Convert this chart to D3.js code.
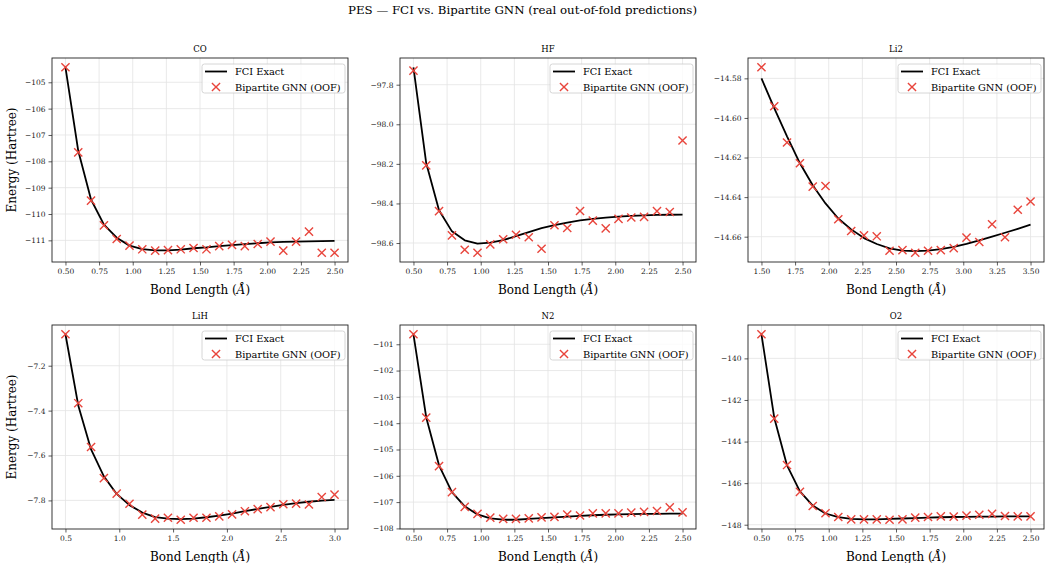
<!DOCTYPE html>
<html>
<head>
<meta charset="utf-8">
<script src="https://cdn.jsdelivr.net/npm/d3@7"></script>
<style>
    body { margin: 0; background: #fff; }
    svg { font-family: "DejaVu Serif", serif; }
</style>
</head>
<body>
<div id="chart"></div>
<script>
// Data
const molecules = ["CO", "HF", "Li2", "LiH", "N2", "O2"];

const bondShort = [0.5, 0.595, 0.69, 0.786, 0.881, 0.976, 1.071, 1.167, 1.262, 1.357, 1.452,
    1.548, 1.643, 1.738, 1.833, 1.929, 2.024, 2.119, 2.214, 2.31, 2.405, 2.5];
const bondLi2 = [1.5, 1.595, 1.69, 1.786, 1.881, 1.976, 2.071, 2.167, 2.262, 2.357, 2.452,
    2.548, 2.643, 2.738, 2.833, 2.929, 3.024, 3.119, 3.214, 3.31, 3.405, 3.5];
const bondLiH = [0.5, 0.619, 0.738, 0.857, 0.976, 1.095, 1.214, 1.333, 1.452, 1.571, 1.69,
    1.81, 1.929, 2.048, 2.167, 2.286, 2.405, 2.524, 2.643, 2.762, 2.881, 3.0];

const fciCO = [-104.43, -107.6, -109.45, -110.4, -110.9, -111.2, -111.33, -111.38, -111.38, -111.35, -111.3,
    -111.27, -111.22, -111.18, -111.14, -111.11, -111.08, -111.06, -111.05, -111.04, -111.03, -111.02];
const gnnCO = [-104.43, -107.66, -109.49, -110.43, -110.95, -111.2, -111.34, -111.39, -111.37, -111.34, -111.29,
    -111.34, -111.22, -111.17, -111.22, -111.14, -111.05, -111.39, -111.05, -110.67, -111.47, -111.47];

const fciHF = [-97.712, -98.197, -98.434, -98.541, -98.586, -98.603, -98.598, -98.585, -98.565, -98.545, -98.525,
    -98.51, -98.497, -98.486, -98.478, -98.472, -98.467, -98.463, -98.46, -98.458, -98.457, -98.456];
const gnnHF = [-97.729, -98.208, -98.439, -98.561, -98.634, -98.649, -98.607, -98.581, -98.558, -98.571, -98.629,
    -98.51, -98.524, -98.438, -98.487, -98.526, -98.478, -98.471, -98.468, -98.439, -98.443, -98.082];

const fciLi2 = [-14.58, -14.595, -14.6093, -14.6229, -14.634, -14.6432, -14.6508, -14.6563, -14.6607, -14.6637, -14.6659,
    -14.667, -14.6673, -14.667, -14.6663, -14.6651, -14.6636, -14.6619, -14.66, -14.658, -14.656, -14.6539];
const gnnLi2 = [-14.5744, -14.5941, -14.6124, -14.6229, -14.6347, -14.6344, -14.6512, -14.6571, -14.6593, -14.6598, -14.6671,
    -14.6668, -14.6681, -14.6671, -14.6668, -14.6658, -14.6605, -14.6627, -14.6537, -14.6603, -14.6464, -14.6422];

const fciLiH = [-7.06, -7.377, -7.573, -7.693, -7.771, -7.821, -7.854, -7.874, -7.881, -7.883, -7.881,
    -7.875, -7.868, -7.859, -7.848, -7.838, -7.829, -7.82, -7.812, -7.806, -7.801, -7.798];
const gnnLiH = [-7.06, -7.367, -7.562, -7.701, -7.77, -7.815, -7.863, -7.881, -7.877, -7.886, -7.877,
    -7.877, -7.871, -7.862, -7.848, -7.839, -7.83, -7.817, -7.814, -7.818, -7.785, -7.774];

const fciN2 = [-100.62, -103.78, -105.6, -106.62, -107.16, -107.47, -107.62, -107.67, -107.67, -107.64, -107.61,
    -107.58, -107.55, -107.52, -107.5, -107.48, -107.47, -107.46, -107.45, -107.45, -107.44, -107.44];
const gnnN2 = [-100.62, -103.79, -105.63, -106.62, -107.18, -107.45, -107.59, -107.64, -107.64, -107.62, -107.58,
    -107.56, -107.47, -107.51, -107.43, -107.43, -107.43, -107.4, -107.37, -107.34, -107.2, -107.39];

const fciO2 = [-138.84, -142.85, -145.15, -146.4, -147.08, -147.46, -147.64, -147.72, -147.74, -147.74, -147.72,
    -147.7, -147.68, -147.66, -147.64, -147.63, -147.62, -147.61, -147.61, -147.6, -147.6, -147.6];
const gnnO2 = [-138.84, -142.9, -145.13, -146.42, -147.1, -147.45, -147.63, -147.74, -147.74, -147.74, -147.76,
    -147.74, -147.66, -147.63, -147.6, -147.61, -147.56, -147.52, -147.48, -147.58, -147.6, -147.6];

// Tick values per panel
const xTicksShort = [0.5, 0.75, 1.0, 1.25, 1.5, 1.75, 2.0, 2.25, 2.5];
const xTicksLi2 = [1.5, 1.75, 2.0, 2.25, 2.5, 2.75, 3.0, 3.25, 3.5];
const xTicksLiH = [0.5, 1.0, 1.5, 2.0, 2.5, 3.0];
const yTicksCO = [-105, -106, -107, -108, -109, -110, -111];
const yTicksHF = [-97.8, -98.0, -98.2, -98.4, -98.6];
const yTicksLi2 = [-14.58, -14.60, -14.62, -14.64, -14.66];
const yTicksLiH = [-7.2, -7.4, -7.6, -7.8];
const yTicksN2 = [-101, -102, -103, -104, -105, -106, -107, -108];
const yTicksO2 = [-140, -142, -144, -146, -148];

const panels = [
    { name: molecules[0], x: bondShort, fci: fciCO, gnn: gnnCO, xt: xTicksShort, xf: ".2f", yt: yTicksCO, yf: ".0f" },
    { name: molecules[1], x: bondShort, fci: fciHF, gnn: gnnHF, xt: xTicksShort, xf: ".2f", yt: yTicksHF, yf: ".1f" },
    { name: molecules[2], x: bondLi2, fci: fciLi2, gnn: gnnLi2, xt: xTicksLi2, xf: ".2f", yt: yTicksLi2, yf: ".2f" },
    { name: molecules[3], x: bondLiH, fci: fciLiH, gnn: gnnLiH, xt: xTicksLiH, xf: ".1f", yt: yTicksLiH, yf: ".1f" },
    { name: molecules[4], x: bondShort, fci: fciN2, gnn: gnnN2, xt: xTicksShort, xf: ".2f", yt: yTicksN2, yf: ".0f" },
    { name: molecules[5], x: bondShort, fci: fciO2, gnn: gnnO2, xt: xTicksShort, xf: ".2f", yt: yTicksO2, yf: ".0f" }
];

const colors = { fci: "#000000", gnn: "#e8453c", grid: "#e3e3e3" };

const W = 1045, H = 563;
const colLeft = [52, 400, 748];
const rowTop = [58, 325];
const pw = 296, ph = 204;

const svg = d3.select("#chart").append("svg")
    .attr("width", W)
    .attr("height", H);

svg.append("text")
    .attr("x", W / 2)
    .attr("y", 14)
    .attr("text-anchor", "middle")
    .style("font-size", "11.8px")
    .text("PES — FCI vs. Bipartite GNN (real out-of-fold predictions)");

const minus = s => s.replace("-", "\u2212");

panels.forEach((p, i) => {
    const col = i % 3, row = Math.floor(i / 3);
    const g = svg.append("g").attr("transform", `translate(${colLeft[col]},${rowTop[row]})`);

    // matplotlib-style 5% margins
    const [x0, x1] = d3.extent(p.x);
    const xm = (x1 - x0) * 0.05;
    const x = d3.scaleLinear().domain([x0 - xm, x1 + xm]).range([0, pw]);

    const [y0, y1] = d3.extent(p.fci.concat(p.gnn));
    const ym = (y1 - y0) * 0.05;
    const y = d3.scaleLinear().domain([y0 - ym, y1 + ym]).range([ph, 0]);

    // Grid
    g.append("g").selectAll("line").data(p.xt).join("line")
        .attr("x1", d => x(d)).attr("x2", d => x(d))
        .attr("y1", 0).attr("y2", ph)
        .attr("stroke", colors.grid).attr("stroke-width", 0.8);
    g.append("g").selectAll("line").data(p.yt).join("line")
        .attr("y1", d => y(d)).attr("y2", d => y(d))
        .attr("x1", 0).attr("x2", pw)
        .attr("stroke", colors.grid).attr("stroke-width", 0.8);

    // Axes
    const xAxis = g.append("g")
        .attr("transform", `translate(0,${ph})`)
        .call(d3.axisBottom(x).tickValues(p.xt).tickFormat(d3.format(p.xf)).tickSizeOuter(0).tickSize(3.5).tickPadding(3));
    const yAxis = g.append("g")
        .call(d3.axisLeft(y).tickValues(p.yt).tickFormat(d => minus(d3.format(p.yf)(d))).tickSizeOuter(0).tickSize(3.5).tickPadding(3));
    [xAxis, yAxis].forEach(a => {
        a.select(".domain").remove();
        a.selectAll("text").style("font-family", "DejaVu Serif").style("font-size", "7.5px").attr("fill", "#222");
        a.selectAll("line").attr("stroke", "#333").attr("stroke-width", 0.8);
    });

    // FCI line
    const pts = p.x.map((b, k) => ({ b, e: p.fci[k] }));
    g.append("path")
        .datum(pts)
        .attr("fill", "none")
        .attr("stroke", colors.fci)
        .attr("stroke-width", 1.8)
        .attr("stroke-linejoin", "round")
        .attr("d", d3.line().x(d => x(d.b)).y(d => y(d.e)));

    // GNN crosses
    const cross = d3.symbol().type(d3.symbolX).size(45);
    g.append("g").selectAll("path")
        .data(p.x.map((b, k) => ({ b, e: p.gnn[k] })))
        .join("path")
        .attr("transform", d => `translate(${x(d.b)},${y(d.e)})`)
        .attr("d", cross)
        .attr("fill", "none")
        .attr("stroke", colors.gnn)
        .attr("stroke-width", 1.4);

    // Frame
    g.append("rect")
        .attr("width", pw).attr("height", ph)
        .attr("fill", "none")
        .attr("stroke", "#222")
        .attr("stroke-width", 0.9);

    // Panel title
    g.append("text")
        .attr("x", pw / 2).attr("y", -6)
        .attr("text-anchor", "middle")
        .style("font-size", "8.5px")
        .text(p.name);

    // Axis labels
    const xl = g.append("text")
        .attr("x", pw / 2).attr("y", ph + 32)
        .attr("text-anchor", "middle")
        .style("font-size", "12px");
    xl.append("tspan").text("Bond Length (");
    xl.append("tspan").style("font-style", "italic").text("Å");
    xl.append("tspan").text(")");

    if (col === 0) {
        g.append("text")
            .attr("transform", "rotate(-90)")
            .attr("x", -ph / 2).attr("y", -36)
            .attr("text-anchor", "middle")
            .style("font-size", "12px")
            .text("Energy (Hartree)");
    }

    // Legend
    const lw = 143, lh = 29;
    const leg = g.append("g").attr("transform", `translate(${pw - lw - 3},6)`);
    leg.append("rect")
        .attr("width", lw).attr("height", lh)
        .attr("rx", 2.5)
        .attr("fill", "#fff").attr("fill-opacity", 0.8)
        .attr("stroke", "#ccc").attr("stroke-width", 0.8);
    leg.append("line")
        .attr("x1", 3).attr("x2", 25).attr("y1", 7.5).attr("y2", 7.5)
        .attr("stroke", colors.fci).attr("stroke-width", 1.8);
    leg.append("text").attr("x", 33).attr("y", 11).style("font-size", "9.8px").text("FCI Exact");
    leg.append("path")
        .attr("transform", "translate(14,23)")
        .attr("d", cross)
        .attr("fill", "none")
        .attr("stroke", colors.gnn)
        .attr("stroke-width", 1.4);
    leg.append("text").attr("x", 33).attr("y", 26.5).style("font-size", "9.8px").text("Bipartite GNN (OOF)");
});
</script>
</body>
</html>
